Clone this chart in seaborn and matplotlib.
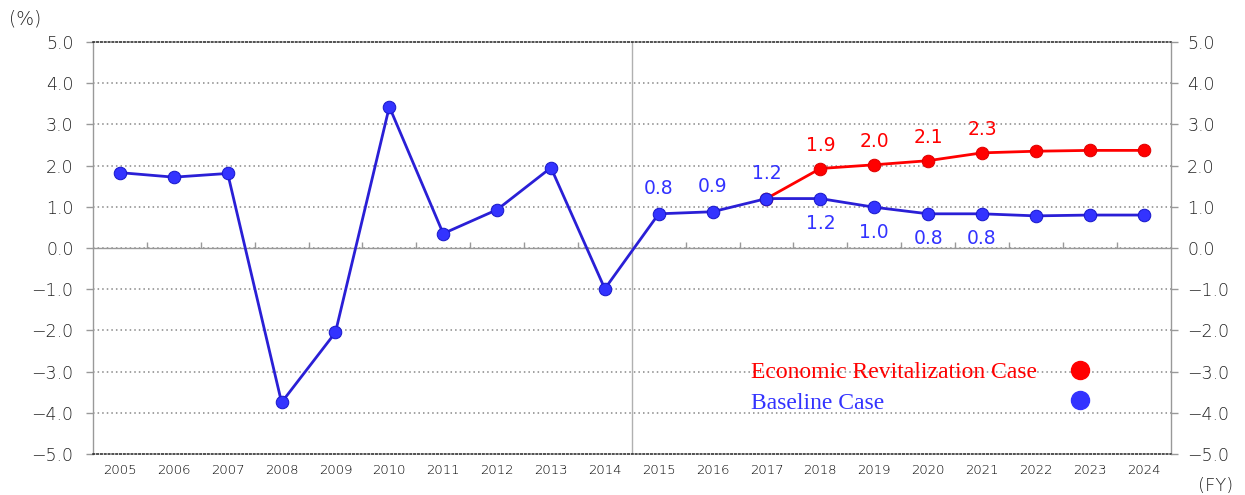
import numpy as np
import pandas as pd
import seaborn as sns
import matplotlib
matplotlib.use('Agg')
import matplotlib.pyplot as plt
from matplotlib.lines import Line2D

# 实质GDP增长率 (FY)
years = [str(y) for y in range(2005, 2025)]
baseline = [1.83, 1.72, 1.81, -3.75, -2.05, 3.43, 0.35, 0.93, 1.95, -0.99,
            0.83, 0.88, 1.20, 1.20, 0.99, 0.83, 0.83, 0.78, 0.80, 0.80]
revival_years = years[12:]
revival = [1.20, 1.93, 2.02, 2.12, 2.31, 2.35, 2.37, 2.37]

base_label_years = ['2015', '2016', '2017', '2018', '2019', '2020', '2021']
base_labels = ['0.8', '0.9', '1.2', '1.2', '1.0', '0.8', '0.8']
base_label_side = ['above', 'above', 'above', 'below', 'below', 'below', 'below']
rev_label_years = ['2018', '2019', '2020', '2021']
rev_labels = ['1.9', '2.0', '2.1', '2.3']

legend_names = ['Economic Revitalization Case', 'Baseline Case']
yticks = np.arange(-5, 6, 1)
ytick_labels = [('%.1f' % v).replace('-', '\u2212') for v in yticks]

RED = '#ff0000'
BLUE = '#3333ff'
BLUE_LINE = '#2a1fd6'
FW = 200  # DejaVu Sans ExtraLight for axis text

df_base = pd.DataFrame({'x': range(len(years)), 'v': baseline})
df_rev = pd.DataFrame({'x': [years.index(y) for y in revival_years], 'v': revival})

sns.set_theme(style='white')
plt.rcParams['font.family'] = ['DejaVu Sans']

fig = plt.figure(figsize=(12.45, 4.95), dpi=100)
ax = fig.add_axes([0.0747, 0.083, 0.8655, 0.832])

# grid
for v in yticks[1:-1]:
    ax.axhline(v, color='#888888', lw=1.1, ls=(0, (1, 2)), zorder=0)
ax.axvline(9.5, color='#b0b0b0', lw=1, zorder=0)

sns.lineplot(data=df_rev, x='x', y='v', ax=ax, color=RED, lw=2,
             marker='o', markersize=9, markerfacecolor=RED, markeredgecolor='#e00000',
             legend=False, zorder=3)
sns.lineplot(data=df_base, x='x', y='v', ax=ax, color=BLUE_LINE, lw=2,
             marker='o', markersize=9, markerfacecolor=BLUE, markeredgecolor='#1a1acc',
             legend=False, zorder=4)

for yr, txt, side in zip(base_label_years, base_labels, base_label_side):
    i = years.index(yr)
    dy = 18 if side == 'above' else -18
    ax.annotate(txt, (i, baseline[i]), xytext=(0, dy), textcoords='offset points',
                ha='center', va='center', color=BLUE, fontsize=13.5)
for yr, txt in zip(rev_label_years, rev_labels):
    i = revival_years.index(yr)
    ax.annotate(txt, (years.index(yr), revival[i]), xytext=(0, 16.5), textcoords='offset points',
                ha='center', va='center', color=RED, fontsize=13.5)

ax.set_xlim(-0.5, len(years) - 0.5)
ax.set_ylim(-5, 5)
ax.set_xticks(range(len(years)))
ax.set_xticklabels(years, fontweight=FW)
ax.set_yticks(yticks)
ax.set_yticklabels(ytick_labels, fontweight=FW)
ax.set_xlabel('')
ax.set_ylabel('')
ax.tick_params(axis='x', length=0, pad=7, labelsize=9.5, labelcolor='#000000')
ax.tick_params(axis='y', length=5, width=1, color='#999999', pad=9,
               labelsize=12.5, labelcolor='#222222')

for s in ['left', 'right']:
    ax.spines[s].set_color('#999999')
    ax.spines[s].set_linewidth(1)
for s in ['top', 'bottom']:
    ax.spines[s].set_color('#222222')
    ax.spines[s].set_linestyle((0, (1, 1.5)))
    ax.spines[s].set_linewidth(1.1)

ax2 = ax.twinx()
ax2.set_ylim(-5, 5)
ax2.set_yticks(yticks)
ax2.set_yticklabels(ytick_labels, fontweight=FW)
ax2.tick_params(axis='y', length=5, width=1, color='#999999', pad=7,
                labelsize=12.5, labelcolor='#222222')
ax2.grid(False)
for s in ax2.spines.values():
    s.set_visible(False)

# zero line with category separators
sec = ax.secondary_xaxis(0.5)
sec.set_xticks(np.arange(0.5, len(years) - 1, 1))
sec.set_xticklabels([])
sec.tick_params(axis='x', length=4, width=1, color='#999999', direction='out')
sec.spines['top'].set_color('#999999')
sec.spines['top'].set_linewidth(1)

# legend: text column then marker column
blank = Line2D([], [], color='none')
handles = [blank, blank,
           Line2D([], [], ls='none', marker='o', markersize=13, color=RED),
           Line2D([], [], ls='none', marker='o', markersize=13, color=BLUE)]
labels = legend_names + [' ', ' ']
leg = ax.legend(handles, labels, ncol=2, loc='upper left', bbox_to_anchor=(0.6, 0.253),
                frameon=False, borderpad=0, handlelength=0, handletextpad=0,
                columnspacing=1.8, labelspacing=0.38,
                prop={'family': 'Liberation Serif', 'size': 17})
leg.get_texts()[0].set_color(RED)
leg.get_texts()[1].set_color(BLUE)

fig.text(0.007, 0.962, '(%)', fontsize=13.5, fontweight=FW, color='#222222', ha='left', va='center')
fig.text(0.976, 0.018, '(FY)', fontsize=13, fontweight=FW, color='#222222', ha='center', va='center')

fig.savefig('out.png', dpi=100)
